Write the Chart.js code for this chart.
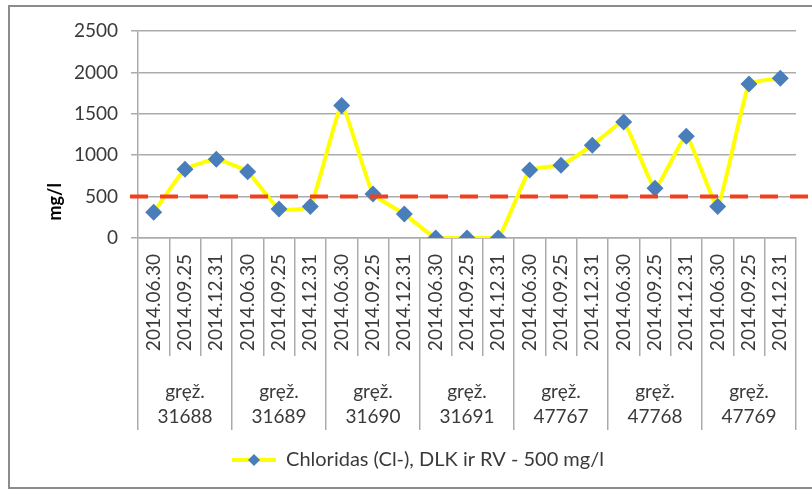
<!DOCTYPE html>
<html lang="lt">
<head>
<meta charset="utf-8">
<title>Chloridai</title>
<script src="https://cdn.jsdelivr.net/npm/chart.js@4.4.1/dist/chart.umd.min.js"></script>
<style>
  html, body { margin: 0; padding: 0; background: #fff; overflow: hidden; }
  #wrap { position: relative; width: 812px; height: 491px; }
  #frame {
    position: absolute; left: 8px; top: 5px; width: 820px; height: 480px;
    border: 2px solid #8c8c8c; border-right: none; pointer-events: none;
  }
</style>
</head>
<body>
<div id="wrap">
  <canvas id="chart" width="812" height="491"></canvas>
  <div id="frame"></div>
</div>
<script>
// duomenys
const WELLS = ['31688', '31689', '31690', '31691', '47767', '47768', '47769'];
const SAMPLE_DATES = ['2014.06.30', '2014.09.25', '2014.12.31'];
const CHLORIDE = [310, 830, 950, 800, 350, 380, 1600, 530, 290, 0, 0, 0,
                  820, 880, 1120, 1400, 600, 1230, 380, 1860, 1930];
const LIMIT = 500;
const Y_MIN = 0, Y_MAX = 2500, Y_STEP = 500;
const SERIES_NAME = 'Chloridas (Cl-), DLK ir RV - 500 mg/l';

const DATE_LABELS = WELLS.flatMap(() => SAMPLE_DATES);
const WELL_LABELS = WELLS.map(w => ['gręž.', w]);

const LINE_COLOR = '#ffff00';
const MARKER_COLOR = '#4a7ebb';
const LIMIT_COLOR = '#f0401e';
const GRID_COLOR = '#ababab';
const TEXT_COLOR = '#3a3a3a';
const LEGEND_BOX_W = 44;

Chart.defaults.font.family = 'Lato';
Chart.defaults.font.size = 19;
Chart.defaults.color = TEXT_COLOR;

// raudona ribinė linija per visą plotį
const limitLine = {
    id: 'limitLine',
    afterDatasetsDraw(chart) {
        const y = chart.scales.y.getPixelForValue(LIMIT);
        const ctx = chart.ctx;
        ctx.save();
        ctx.strokeStyle = LIMIT_COLOR;
        ctx.lineWidth = 4;
        ctx.setLineDash([18, 12]);
        ctx.beginPath();
        ctx.moveTo(chart.chartArea.left - 8, y);
        ctx.lineTo(chart.width, y);
        ctx.stroke();
        ctx.restore();
    }
};

// rombas ant legendos linijos
const legendMarker = {
    id: 'legendMarker',
    afterDraw(chart) {
        const box = chart.legend.legendHitBoxes[0];
        if (!box) return;
        const cx = box.left + LEGEND_BOX_W / 2;
        const cy = box.top + box.height / 2;
        const r = 6;
        const ctx = chart.ctx;
        ctx.save();
        ctx.fillStyle = MARKER_COLOR;
        ctx.beginPath();
        ctx.moveTo(cx - r, cy);
        ctx.lineTo(cx, cy - r);
        ctx.lineTo(cx + r, cy);
        ctx.lineTo(cx, cy + r);
        ctx.closePath();
        ctx.fill();
        ctx.restore();
    }
};

new Chart(document.getElementById('chart'), {
    type: 'line',
    data: {
        labels: DATE_LABELS,
        datasets: [{
            label: SERIES_NAME,
            data: CHLORIDE,
            xAxisID: 'x',
            yAxisID: 'y',
            borderColor: LINE_COLOR,
            backgroundColor: LINE_COLOR,
            borderWidth: 4,
            tension: 0.12,
            pointStyle: 'rectRot',
            pointRadius: 8.5,
            pointBackgroundColor: MARKER_COLOR,
            pointBorderColor: MARKER_COLOR,
            pointBorderWidth: 0
        }]
    },
    options: {
        responsive: false,
        animation: false,
        layout: { padding: { left: 40, right: 16, top: 31, bottom: 11 } },
        plugins: {
            tooltip: { enabled: false },
            legend: {
                position: 'bottom',
                labels: {
                    boxWidth: LEGEND_BOX_W,
                    boxHeight: 4,
                    padding: 10,
                    color: TEXT_COLOR,
                    font: { size: 20 },
                    generateLabels(chart) {
                        const items = Chart.defaults.plugins.legend.labels.generateLabels(chart);
                        items.forEach(item => {
                            item.fillStyle = LINE_COLOR;
                            item.strokeStyle = LINE_COLOR;
                            item.lineWidth = 0;
                        });
                        return items;
                    }
                }
            }
        },
        scales: {
            y: {
                min: Y_MIN,
                max: Y_MAX,
                ticks: {
                    stepSize: Y_STEP,
                    padding: 13,
                    color: TEXT_COLOR,
                    callback: value => String(value)
                },
                grid: { color: GRID_COLOR, lineWidth: 1.5, tickLength: 7 },
                border: { color: GRID_COLOR, width: 1.5 },
                title: {
                    display: true,
                    text: '    mg/l',
                    align: 'start',
                    color: '#000',
                    font: { weight: 'bold', size: 18 },
                    padding: { top: 4, bottom: 0 }
                },
                afterFit(scale) { scale.width = 98; }
            },
            x: {
                offset: true,
                grid: {
                    offset: true,
                    drawOnChartArea: false,
                    tickLength: 118,
                    color: GRID_COLOR,
                    lineWidth: 1.5
                },
                border: { color: GRID_COLOR, width: 1.5 },
                ticks: {
                    minRotation: 90,
                    maxRotation: 90,
                    autoSkip: false,
                    padding: -102,
                    color: TEXT_COLOR
                },
                afterFit(scale) { scale.height = 118; }
            },
            x2: {
                type: 'category',
                labels: WELL_LABELS,
                position: 'bottom',
                offset: true,
                weight: 1,
                grid: {
                    offset: true,
                    drawOnChartArea: false,
                    tickLength: 74,
                    color: GRID_COLOR,
                    lineWidth: 1.5
                },
                border: { display: false },
                ticks: {
                    maxRotation: 0,
                    autoSkip: false,
                    padding: -51,
                    color: TEXT_COLOR,
                    font: { lineHeight: 1.333 }
                },
                afterFit(scale) { scale.height = 84; }
            }
        }
    },
    plugins: [limitLine, legendMarker]
});
</script>
</body>
</html>
